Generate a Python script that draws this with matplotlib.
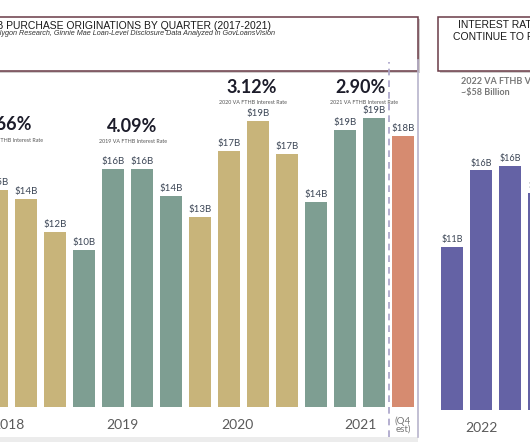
import matplotlib
matplotlib.use("Agg")
import matplotlib.pyplot as plt
from matplotlib.patches import Rectangle
from matplotlib.lines import Line2D

# ---- data ----
left_values = [14.5, 13.9, 11.7, 10.5, 15.9, 15.9, 14.1, 12.7, 17.1, 19.1, 16.9, 13.7, 18.5, 19.3, 18.1]
left_labels = ["$15B", "$14B", "$12B", "$10B", "$16B", "$16B", "$14B", "$13B",
               "$17B", "$19B", "$17B", "$14B", "$19B", "$19B", "$18B"]
left_groups = ["2018", "2018", "2018", "2019", "2019", "2019", "2019", "2020",
               "2020", "2020", "2020", "2021", "2021", "2021", "est"]
year_labels = ["2018", "2019", "2020", "2021"]
year_pos = [0.38, 4.31, 8.28, 12.55]
rates = ["4.66%", "4.09%", "3.12%", "2.90%"]
rate_subs = ["2018 VA FTHB Interest Rate", "2019 VA FTHB Interest Rate",
             "2020 VA FTHB Interest Rate", "2021 VA FTHB Interest Rate"]
rate_x = [0.36, 4.655, 8.79, 12.55]
rate_y = [18.8, 18.73, 21.33, 21.33]

right_values = [10.9, 16.0, 16.3, 14.5]
right_labels = ["$11B", "$16B", "$16B", "$15B"]

colors = {"2018": "#C8B47A", "2019": "#7E9E92", "2020": "#C8B47A", "2021": "#7E9E92", "est": "#D68B70"}
purple = "#6462A5"

W, H = 530, 442
fig = plt.figure(figsize=(W / 100, H / 100), dpi=100)
fig.patch.set_facecolor("white")

def fx(px):
    return px / W

def fy(py):
    return 1 - py / H

NUM_FONT = ["Lato", "DejaVu Sans"]
HEAD_FONT = ["Liberation Sans", "DejaVu Sans"]

# bottom gray strip
fig.patches.append(Rectangle((fx(0), fy(442)), fx(418), 5 / H, transform=fig.transFigure,
                             facecolor="#ececec", edgecolor="none", zorder=0))

# ---- left chart ----
axL = fig.add_axes([fx(0), fy(407), fx(418), (407 - 60) / H])
axL.set_xlim(0.103, 14.52)
axL.set_ylim(0, 347 / 15)
axL.axis("off")
xs = list(range(len(left_values)))
axL.bar(xs, left_values, width=0.78, color=[colors[g] for g in left_groups], zorder=2)
for x, v, lab in zip(xs, left_values, left_labels):
    axL.text(x, v + 0.15, lab, ha="center", va="bottom", fontsize=7,
             color="#3c4656", family=NUM_FONT, clip_on=False)
for yl, xp in zip(year_labels, year_pos):
    axL.text(xp, -1.2, yl, ha="center", va="center", fontsize=10,
             color="#5a5a5a", family=NUM_FONT, clip_on=False)
axL.text(14.0, -1.2, "(Q4\nest)", ha="center", va="center", fontsize=7,
         color="#777777", family=NUM_FONT, linespacing=0.9, clip_on=False)
for r, s, x, y in zip(rates, rate_subs, rate_x, rate_y):
    axL.text(x, y, r, ha="center", va="center", fontsize=13, fontweight="bold",
             color="#1c1c2a", family=NUM_FONT, clip_on=False)
    axL.text(x + (0.12 if r == "2.90%" else 0.05), y - 1.0, s, ha="center", va="center",
             fontsize=3.9, color="#555555", family=NUM_FONT, clip_on=False)

# separator lines
fig.lines.append(Line2D([fx(388.5), fx(388.5)], [fy(437), fy(62)], transform=fig.transFigure,
                        color="#a8a2c8", lw=1.2, ls=(0, (4, 3)), zorder=3))
fig.lines.append(Line2D([fx(418), fx(418)], [fy(437), fy(60)], transform=fig.transFigure,
                        color="#b8b4cc", lw=1.2, zorder=3))

# ---- right chart ----
axR = fig.add_axes([fx(420), fy(410), fx(110), (410 - 60) / H])
axR.set_xlim(-1.103, 2.69)
axR.set_ylim(0, 350 / 15)
axR.axis("off")
rx = list(range(len(right_values)))
axR.bar(rx, right_values, width=0.78, color=purple, zorder=2)
for x, v, lab in zip(rx, right_values, right_labels):
    axR.text(x, v + 0.15, lab, ha="center", va="bottom", fontsize=6.5,
             color="#3c4656", family=NUM_FONT, clip_on=False)
axR.text(1.0, -1.2, "2022", ha="center", va="center", fontsize=10,
         color="#5a5a5a", family=NUM_FONT, clip_on=False)

# ---- title boxes ----
for (x0, x1) in [(-10, 418), (438, 545)]:
    fig.patches.append(Rectangle((fx(x0 + 2), fy(73)), fx(x1 - x0), (73 - 19) / H,
                                 transform=fig.transFigure, facecolor="#d0cccc",
                                 edgecolor="none", zorder=1))
    fig.patches.append(Rectangle((fx(x0), fy(71)), fx(x1 - x0), (71 - 17) / H,
                                 transform=fig.transFigure, facecolor="white",
                                 edgecolor="#6a3a46", lw=1.1, zorder=2))

fig.text(fx(271), fy(26), "VA FTHB PURCHASE ORIGINATIONS BY QUARTER (2017-2021)",
         ha="right", va="center", fontsize=7.5, color="#1a1a1a", family=HEAD_FONT, zorder=4)
fig.text(fx(275), fy(33.5),
         "Source: Polygon Research, Ginnie Mae Loan-Level Disclosure Data Analyzed in GovLoansVision",
         ha="right", va="center", fontsize=5.2, style="italic", color="#333333",
         family=HEAD_FONT, zorder=4)
fig.text(fx(458), fy(25), "INTEREST RATES", ha="left", va="center", fontsize=7.5,
         color="#1a1a1a", family=HEAD_FONT, zorder=4)
fig.text(fx(453), fy(37), "CONTINUE TO RISE", ha="left", va="center", fontsize=7.5,
         color="#1a1a1a", family=HEAD_FONT, zorder=4)
fig.text(fx(461), fy(81), "2022 VA FTHB Volume", ha="left", va="center", fontsize=6.5,
         fontweight="bold", color="#777777", family=NUM_FONT, zorder=4)
fig.text(fx(461), fy(92), "~$58 Billion", ha="left", va="center", fontsize=6.5,
         fontweight="bold", color="#777777", family=NUM_FONT, zorder=4)

fig.savefig("out.png", dpi=100, facecolor="white")
